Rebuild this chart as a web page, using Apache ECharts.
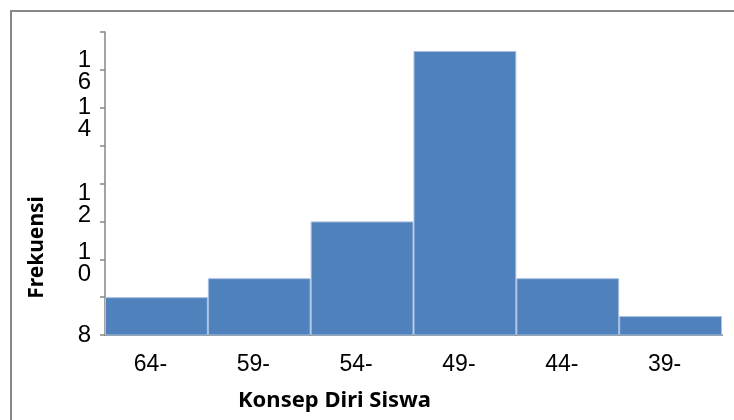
<!DOCTYPE html>
<html>
<head>
<meta charset="utf-8">
<script src="https://cdn.jsdelivr.net/npm/echarts@6/dist/echarts.min.js"></script>
<style>
  html, body { margin: 0; padding: 0; background: #fff; }
  #chart { width: 734px; height: 420px; }
</style>
</head>
<body>
<div id="chart"></div>
<script>
// kelas interval (label terpotong seperti di gambar asli)
const categories = ['64-', '59-', '54-', '49-', '44-', '39-'];
const frekuensi = [9, 9.5, 11, 15.5, 9.5, 8.5];

// label sumbu Y (angka terbungkus per digit) dan posisinya dalam satuan nilai
const yLabelText = ['8', '1\n0', '1\n2', '1\n4', '1\n6'];
const yLabelPos = [8, 9.9, 11.45, 13.72, 14.95];

const chart = echarts.init(document.getElementById('chart'));

const option = {
  animation: false,
  grid: {
    left: 105,
    right: 12,
    top: 32,
    bottom: 85,
    containLabel: false,
  },
  graphic: [
    {
      type: 'rect',
      shape: { x: 11, y: 11, width: 740, height: 430 },
      style: { fill: 'none', stroke: '#878787', lineWidth: 2 },
      silent: true,
    },
  ],
  xAxis: {
    type: 'category',
    data: categories,
    name: 'Konsep Diri Siswa',
    nameLocation: 'middle',
    nameGap: 55,
    nameTextStyle: {
      fontFamily: 'Noto Sans',
      fontWeight: 'bold',
      fontSize: 22,
      color: '#000',
      padding: [0, 158, 0, 0],
    },
    axisLine: { lineStyle: { color: '#868686', width: 2 } },
    axisTick: { show: false },
    axisLabel: {
      fontFamily: 'Liberation Sans',
      fontSize: 23,
      color: '#000',
      margin: 18,
      padding: [0, 12, 0, 0],
    },
  },
  yAxis: {
    type: 'value',
    min: 8,
    max: 16,
    interval: 1,
    name: 'Frekuensi',
    nameLocation: 'middle',
    nameGap: 57,
    nameRotate: 90,
    nameTextStyle: {
      fontFamily: 'Noto Sans',
      fontWeight: 'bold',
      fontSize: 21,
      color: '#000',
      padding: [0, 128, 0, 0],
    },
    splitLine: { show: false },
    axisLine: { show: true, lineStyle: { color: '#868686', width: 1.5 } },
    axisTick: {
      show: true,
      length: 5,
      lineStyle: { color: '#868686', width: 1.5 },
    },
    axisLabel: {
      customValues: yLabelPos,
      hideOverlap: false,
      fontFamily: 'Liberation Sans',
      fontSize: 24,
      lineHeight: 22,
      color: '#000',
      margin: 14,
      formatter: function (value) {
        let idx = 0;
        yLabelPos.forEach((p, i) => {
          if (Math.abs(p - value) < Math.abs(yLabelPos[idx] - value)) idx = i;
        });
        return yLabelText[idx];
      },
    },
  },
  series: [
    {
      type: 'bar',
      data: frekuensi,
      barCategoryGap: '0%',
      clip: true,
      itemStyle: {
        color: '#4F81BD',
        borderColor: '#a9c1e0',
        borderWidth: 1,
      },
    },
  ],
};

chart.setOption(option);
</script>
</body>
</html>
